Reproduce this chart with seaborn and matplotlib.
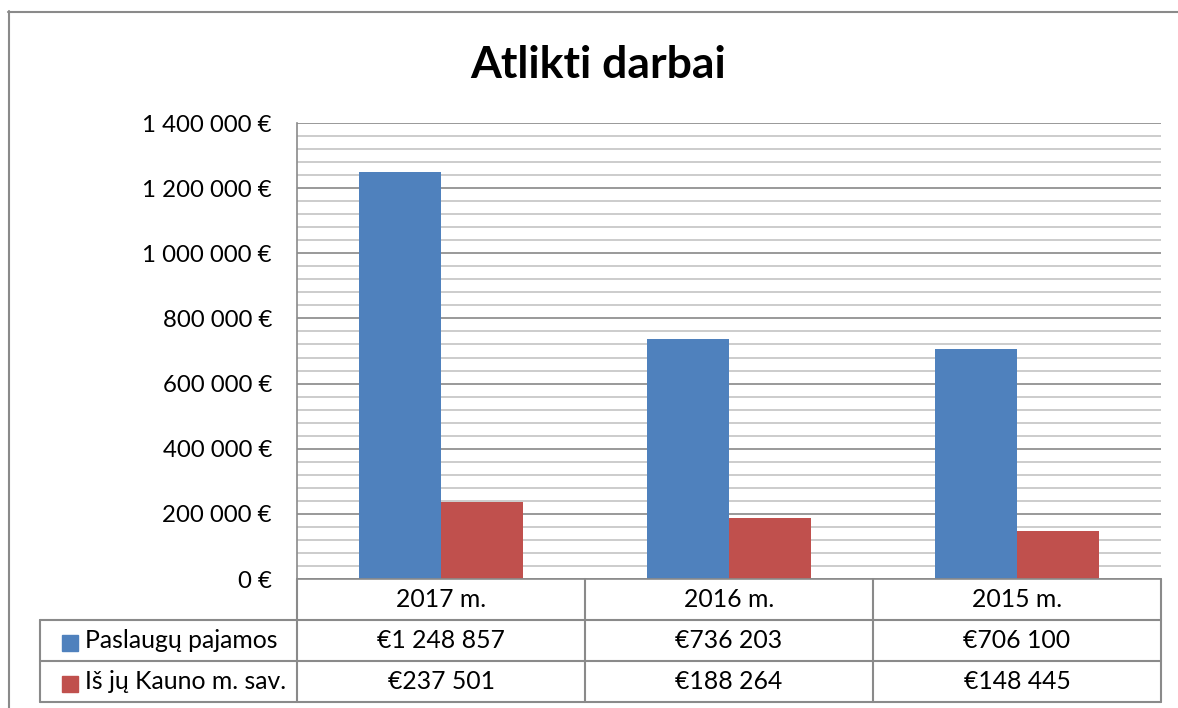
import matplotlib
matplotlib.use("Agg")
import matplotlib.pyplot as plt
import matplotlib.ticker as mticker
from matplotlib.lines import Line2D
import seaborn as sns
import pandas as pd

# ---- data ----
years = ["2017 m.", "2016 m.", "2015 m."]
series_names = ["Paslaugų pajamos", "Iš jų Kauno m. sav."]
paslaugu = [1248857, 736203, 706100]
kauno = [237501, 188264, 148445]
table_labels = [["€1 248 857", "€736 203", "€706 100"],
                ["€237 501", "€188 264", "€148 445"]]
title = "Atlikti darbai"

colors = ["#4F81BD", "#C0504D"]
grid_major = "#878787"
grid_minor = "#C3C3C3"
line_col = "#8A8A8A"

sns.set_theme(style="white")
plt.rcParams["font.family"] = ["Lato", "DejaVu Sans"]

df = pd.DataFrame({
    "year": years * 2,
    "series": [series_names[0]] * 3 + [series_names[1]] * 3,
    "value": paslaugu + kauno,
})

W, H = 1178, 708
fig = plt.figure(figsize=(W / 100, H / 100), dpi=100)

# main plot area
ax = fig.add_axes([297 / W, 1 - 579 / H, (1161 - 297) / W, (579 - 123) / H])
sns.barplot(data=df, x="year", y="value", hue="series", order=years,
            hue_order=series_names, palette=colors, saturation=1,
            width=164 / 288, ax=ax, legend=False, linewidth=0)
ax.set_xlim(-0.5, 2.5)
ax.set_ylim(0, 1400000)
ax.yaxis.set_major_locator(mticker.MultipleLocator(200000))
ax.yaxis.set_minor_locator(mticker.MultipleLocator(40000))
ax.yaxis.set_major_formatter(mticker.FuncFormatter(
    lambda v, p: f"{v:,.0f} €".replace(",", " ")))
ax.grid(True, axis="y", which="major", color=grid_major, lw=1.2)
ax.grid(True, axis="y", which="minor", color=grid_minor, lw=1.2)
ax.set_axisbelow(True)
ax.set_xlabel("")
ax.set_ylabel("")
ax.set_xticks([])
ax.tick_params(axis="y", which="both", length=0, labelsize=17.3, pad=18,
               labelcolor="black")
for s in ["top", "right"]:
    ax.spines[s].set_visible(False)
for s in ["left", "bottom"]:
    ax.spines[s].set_color(line_col)
    ax.spines[s].set_linewidth(1.2)

# data table
tax = fig.add_axes([40 / W, 1 - 702 / H, (1161 - 40) / W, (702 - 579) / H])
xleft = -0.5 - 257 / 288
tax.set_xlim(xleft, 2.5)
tax.set_ylim(3, 0)
tax.axis("off")
lk = dict(color=line_col, lw=1.5, clip_on=False)
for yy in [1, 2, 3]:
    tax.plot([xleft, 2.5], [yy, yy], **lk)
for xx in [-0.5, 0.5, 1.5, 2.5]:
    tax.plot([xx, xx], [0, 3], **lk)
tax.plot([xleft, xleft], [1, 3], **lk)

fs = 17.8
for i, yr in enumerate(years):
    tax.text(i, 0.5, yr, ha="center", va="center", fontsize=fs, color="black")
for r in range(2):
    for i in range(3):
        tax.text(i, 1.5 + r, table_labels[r][i], ha="center", va="center",
                 fontsize=fs, color="black")
    tax.plot([xleft + 30 / 288], [1.55 + r], marker="s", markersize=11,
             color=colors[r], clip_on=False, lw=0)
    tax.text(xleft + 45 / 288, 1.5 + r, series_names[r], ha="left",
             va="center", fontsize=fs, color="black")

# title
fig.text(598 / W, 1 - 78 / H, title, ha="center", va="baseline",
         fontsize=32, fontweight="bold", color="black")

# outer chart frame
fig.add_artist(Line2D([8.5 / W, 8.5 / W], [1 - 11 / H, 0], color=line_col,
                      lw=1.5, transform=fig.transFigure))
fig.add_artist(Line2D([8 / W, 1], [1 - 11.5 / H, 1 - 11.5 / H], color=line_col,
                      lw=1.5, transform=fig.transFigure))

fig.savefig("out.png", dpi=100, facecolor="white")
